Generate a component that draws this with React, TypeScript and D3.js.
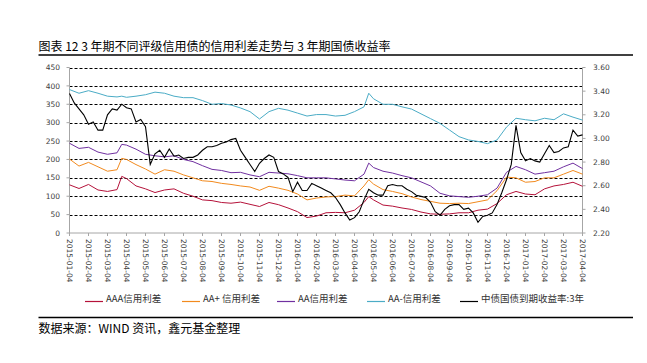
import React from "react";
import * as d3 from "d3";

const tickLabels = [
  "2015-01-04", "2015-02-04", "2015-03-04", "2015-04-04", "2015-05-04", "2015-06-04", "2015-07-04",
  "2015-08-04", "2015-09-04", "2015-10-04", "2015-11-04", "2015-12-04", "2016-01-04", "2016-02-04",
  "2016-03-04", "2016-04-04", "2016-05-04", "2016-06-04", "2016-07-04", "2016-08-04", "2016-09-04",
  "2016-10-04", "2016-11-04", "2016-12-04", "2017-01-04", "2017-02-04", "2017-03-04", "2017-04-04",
];

const leftTicks = [0, 50, 100, 150, 200, 250, 300, 350, 400, 450];
const rightTicks = [2.2, 2.4, 2.6, 2.8, 3.0, 3.2, 3.4, 3.6];

// month offsets (from 2015-01-04) of the spread samples
const spreadMonths = [
  0, 0.5, 1, 1.5, 2, 2.5, 2.75, 3, 3.5, 4, 4.5, 5, 5.5, 6, 6.5, 7, 7.5, 8, 8.5, 9, 9.5, 10, 10.5, 11, 11.5,
  12, 12.5, 13, 13.5, 14, 14.5, 15, 15.5, 15.75, 16, 16.5, 17, 17.5, 18, 18.5, 19, 19.5, 20, 20.5, 21,
  21.5, 22, 22.5, 23, 23.5, 24, 24.5, 25, 25.5, 26, 26.5, 27,
];

const aaaSpread = [
  131, 121, 132, 117, 113, 118, 154, 148, 128, 120, 110, 117, 120, 108, 100, 90, 88, 83, 81, 84, 78, 72, 83,
  77, 68, 58, 42, 46, 55, 56, 55, 62, 83, 99, 90, 76, 73, 68, 64, 57, 52, 51, 52, 55, 55, 62, 65, 80, 104,
  113, 106, 104, 120, 128, 132, 138, 127,
];

const aaPlusSpread = [
  201, 182, 192, 180, 168, 172, 203, 200, 186, 174, 160, 172, 168, 158, 150, 142, 140, 135, 132, 128, 125,
  116, 127, 122, 116, 106, 90, 95, 98, 99, 103, 101, 128, 145, 133, 118, 113, 107, 98, 91, 86, 81, 80, 81,
  80, 85, 90, 115, 152, 150, 138, 140, 150, 150, 160, 170, 160,
];

const aaSpread = [
  244, 230, 233, 220, 214, 218, 241, 239, 228, 214, 210, 207, 210, 200, 194, 183, 173, 170, 164, 165, 158,
  153, 165, 163, 161, 156, 150, 150, 150, 147, 144, 142, 160, 190, 178, 168, 163, 156, 150, 139, 128, 108,
  101, 99, 97, 100, 104, 122, 165, 181, 172, 160, 164, 168, 180, 190, 175,
];

const aaMinusSpread = [
  390, 380, 387, 380, 372, 370, 372, 369, 372, 376, 383, 380, 372, 368, 368, 360, 350, 352, 348, 340, 330,
  310, 330, 339, 334, 326, 318, 322, 322, 318, 320, 330, 343, 380, 365, 350, 350, 343, 337, 324, 311, 298,
  280, 262, 253, 249, 243, 253, 288, 312, 308, 305, 312, 308, 324, 315, 307,
];

// 3y treasury yield, sampled every quarter month
const yieldStep = 0.25;
const treasuryYield3y = [
  3.38, 3.30, 3.25, 3.20, 3.12, 3.14, 3.07, 3.07, 3.20, 3.25, 3.24, 3.29, 3.26, 3.25, 3.14, 3.16,
  3.10, 2.78, 2.87, 2.90, 2.84, 2.91, 2.85, 2.86, 2.83, 2.84, 2.84, 2.86, 2.90, 2.93, 2.93, 2.94,
  2.96, 2.97, 2.99, 3.00, 2.90, 2.84, 2.78, 2.72, 2.79, 2.83, 2.86, 2.84, 2.72, 2.70, 2.67, 2.55,
  2.63, 2.56, 2.56, 2.62, 2.60, 2.58, 2.56, 2.54, 2.50, 2.44, 2.37, 2.31, 2.33, 2.38, 2.48, 2.57,
  2.54, 2.52, 2.52, 2.60, 2.61, 2.60, 2.60, 2.57, 2.55, 2.52, 2.51, 2.50, 2.46, 2.38, 2.35, 2.40,
  2.43, 2.44, 2.44, 2.40, 2.41, 2.37, 2.29, 2.34, 2.35, 2.37, 2.44, 2.54, 2.65, 2.78, 3.11, 2.88,
  2.81, 2.83, 2.81, 2.80, 2.87, 2.94, 2.88, 2.89, 2.92, 2.93, 3.07, 3.02, 3.03,
];

const seriesNames = ["AAA信用利差", "AA+ 信用利差", "AA信用利差", "AA-信用利差", "中债国债到期收益率:3年"];
const seriesColors = ["#B5123A", "#F28A1E", "#7030A0", "#4BACC6", "#000000"];
const legendX = [85, 182, 277, 367, 460];

const W = 647;
const H = 363;
const plot = { left: 69.5, right: 582.5, top: 67.5, bottom: 233 };

export default function App() {
  const x = d3.scaleLinear().domain([0, tickLabels.length - 1]).range([plot.left, plot.right]);
  const yL = d3.scaleLinear().domain([0, 450]).range([plot.bottom, plot.top]);
  const yR = d3.scaleLinear().domain([2.2, 3.6]).range([plot.bottom, plot.top]);

  const spreadLine = d3
    .line<number>()
    .x((_, i) => x(spreadMonths[i]))
    .y((d) => yL(d));
  const yieldLine = d3
    .line<number>()
    .x((_, i) => x(i * yieldStep))
    .y((d) => yR(d));

  const spreads = [aaaSpread, aaPlusSpread, aaSpread, aaMinusSpread];
  const tickFont = "'DejaVu Sans', Verdana, sans-serif";
  const cjkFont = "'Noto Sans CJK SC', 'Noto Sans', sans-serif";
  const axisColor = "#A6A6A6";
  const labelColor = "#404040";

  return (
    <svg
      width={W}
      height={H}
      viewBox={`0 0 ${W} ${H}`}
      style={{ position: "absolute", left: 0, top: 0, background: "#fff" }}
    >
      <rect x={0} y={0} width={W} height={H} fill="#fff" />
      <text x={38.5} y={51} fontFamily={cjkFont} fontSize={12} fill="#000">
        图表 12 3 年期不同评级信用债的信用利差走势与 3 年期国债收益率
      </text>
      <line x1={38.5} x2={633} y1={55} y2={55} stroke="#000" strokeWidth={1.5} />

      {/* gridlines */}
      {leftTicks
        .filter((t) => t > 0)
        .map((t) => (
          <line
            key={"g" + t}
            x1={plot.left}
            x2={plot.right}
            y1={Math.round(yL(t)) + 0.5}
            y2={Math.round(yL(t)) + 0.5}
            stroke="#000"
            strokeWidth={1}
            strokeDasharray="3,2"
          />
        ))}

      {/* axes */}
      <line x1={plot.left} x2={plot.left} y1={plot.top} y2={plot.bottom} stroke={axisColor} />
      <line x1={plot.right} x2={plot.right} y1={plot.top} y2={plot.bottom} stroke={axisColor} />
      <line x1={plot.left} x2={plot.right} y1={plot.bottom} y2={plot.bottom} stroke={axisColor} />

      {leftTicks.map((t) => (
        <g key={"l" + t}>
          <line x1={plot.left - 3} x2={plot.left} y1={yL(t)} y2={yL(t)} stroke={axisColor} />
          <text
            x={60}
            y={yL(t)}
            dy="0.35em"
            textAnchor="end"
            fontFamily={tickFont}
            fontSize={7.5}
            fill={labelColor}
          >
            {t}
          </text>
        </g>
      ))}

      {rightTicks.map((t) => (
        <g key={"r" + t}>
          <line x1={plot.right} x2={plot.right + 3} y1={yR(t)} y2={yR(t)} stroke={axisColor} />
          <text
            x={593}
            y={yR(t)}
            dy="0.35em"
            textAnchor="start"
            fontFamily={tickFont}
            fontSize={7.5}
            fill={labelColor}
          >
            {t.toFixed(2)}
          </text>
        </g>
      ))}

      {tickLabels.map((lab, i) => (
        <g key={lab}>
          <line x1={x(i)} x2={x(i)} y1={plot.bottom} y2={plot.bottom + 3} stroke={axisColor} />
          <text
            transform={`translate(${x(i)},${239}) rotate(90)`}
            dy="0.35em"
            textAnchor="start"
            fontFamily={tickFont}
            fontSize={7.5}
            fill={labelColor}
          >
            {lab}
          </text>
        </g>
      ))}

      {/* series */}
      {spreads.map((s, k) => (
        <path key={"s" + k} d={spreadLine(s) || ""} fill="none" stroke={seriesColors[k]} strokeWidth={1} />
      ))}
      <path d={yieldLine(treasuryYield3y) || ""} fill="none" stroke={seriesColors[4]} strokeWidth={1.1} />

      {/* legend */}
      {seriesNames.map((name, k) => (
        <g key={name}>
          <line
            x1={legendX[k]}
            x2={legendX[k] + 18}
            y1={301.5}
            y2={301.5}
            stroke={seriesColors[k]}
            strokeWidth={1.2}
          />
          <text x={legendX[k] + 21} y={302} fontFamily={cjkFont} fontSize={9.5} fill="#333">
            {name}
          </text>
        </g>
      ))}

      <line x1={38.5} x2={633} y1={317.5} y2={317.5} stroke="#000" strokeWidth={1.5} />
      <text x={38.5} y={332.5} fontFamily={cjkFont} fontSize={12} fill="#000">
        数据来源：WIND 资讯，鑫元基金整理
      </text>
    </svg>
  );
}
